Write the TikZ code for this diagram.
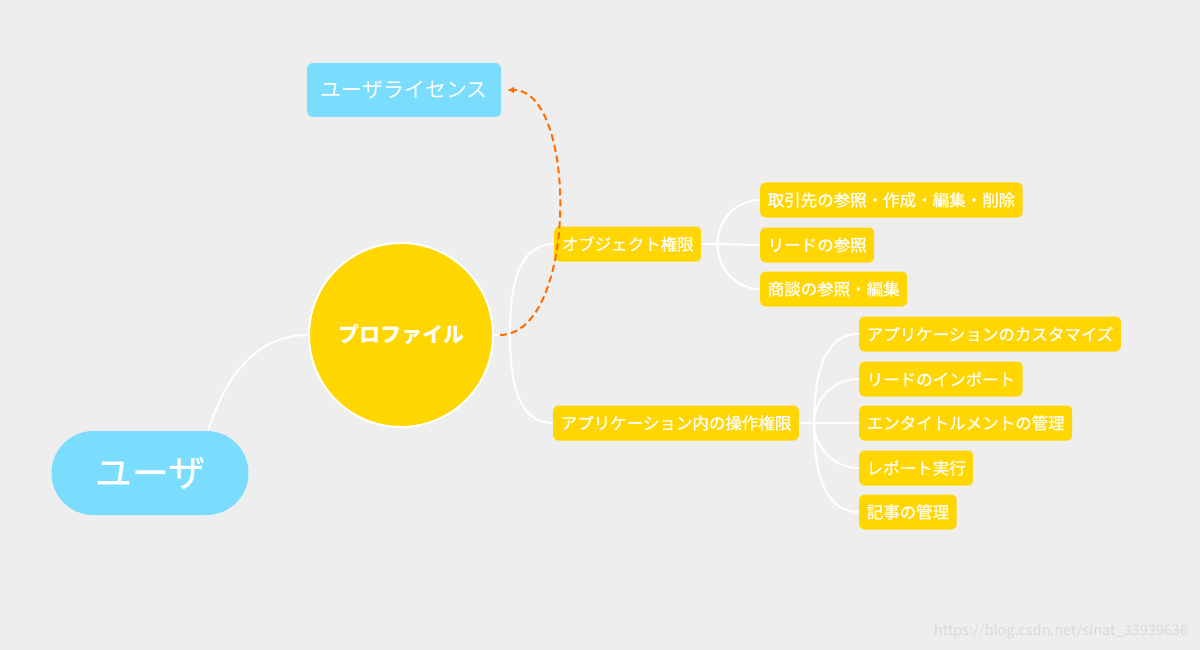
\documentclass[tikz,border=0pt]{standalone}
\usepackage{fontspec}
\setmainfont{Noto Sans CJK JP}
\newfontfamily\medfont[FakeBold=0.8]{Noto Sans CJK JP}
\usetikzlibrary{arrows.meta}

\definecolor{BgGray}{RGB}{238,238,238}
\definecolor{SkyBlue}{RGB}{122,221,254}
\definecolor{Gold}{RGB}{255,214,0}
\definecolor{LinkOrange}{RGB}{255,109,0}
\definecolor{MarkGray}{RGB}{218,218,218}

\begin{document}
\begin{tikzpicture}[
    x=1pt, y=1pt,
    every node/.style={text=white, font=\fontsize{16.5}{18}\selectfont},
    userbox/.style={fill=SkyBlue, rounded corners=42pt, minimum width=197pt, minimum height=84pt, font=\fontsize{37}{42}\selectfont\medfont},
    profile/.style={circle, fill=Gold, draw=white, line width=2pt, minimum size=184pt, font=\fontsize{21}{24}\selectfont\bfseries},
    licence/.style={fill=SkyBlue, rounded corners=6pt, minimum width=194pt, minimum height=54pt, font=\fontsize{21}{24}\selectfont},
    branch/.style={fill=Gold, rounded corners=5pt, minimum height=35pt, inner xsep=7.5pt, anchor=west, font=\fontsize{16.5}{18}\selectfont\medfont},
    leaf/.style={branch},
    link/.style={draw=white, line width=2pt},
    dashlink/.style={draw=LinkOrange, line width=2pt, dash pattern=on 7pt off 4pt, -{Latex[length=7pt, width=7pt]}}
]
\fill[BgGray] (0,0) rectangle (1200,-650);

% main nodes
\node[userbox] (user) at (150,-473) {ユーザ};
\node[profile] (profile) at (401,-335) {プロファイル};
\node[licence] (licence) at (404,-90) {ユーザライセンス};

\node[branch] (objperm) at (554,-244) {オブジェクト権限};
\node[branch] (appperm) at (553,-423) {アプリケーション内の操作権限};

% object permissions
\node[leaf] (acct) at (760,-200) {取引先の参照・作成・編集・削除};
\node[leaf] (leadref) at (760,-245) {リードの参照};
\node[leaf] (deal) at (760,-289) {商談の参照・編集};

% application permissions
\node[leaf] (custom) at (859,-334) {アプリケーションのカスタマイズ};
\node[leaf] (leadimp) at (859,-379) {リードのインポート};
\node[leaf] (entitle) at (859,-423) {エンタイトルメントの管理};
\node[leaf] (report) at (859,-468) {レポート実行};
\node[leaf] (article) at (859,-512) {記事の管理};

% connectors
\draw[link] ([xshift=58pt]user.north) to[out=72, in=180] (profile.west);
\draw[link] (profile.east) -- ++(16,0) coordinate (hubp);
\draw[link] (hubp) to[out=90, in=180] (objperm.west);
\draw[link] (hubp) to[out=-90, in=180] (appperm.west);

\draw[link] (objperm.east) -- ++(16,0) coordinate (hubo);
\draw[link] (hubo) to[out=90, in=180] (acct.west);
\draw[link] (hubo) -- (leadref.west);
\draw[link] (hubo) to[out=-90, in=180] (deal.west);

\draw[link] (appperm.east) -- ++(15,0) coordinate (huba);
\foreach \n in {custom, leadimp} {
  \draw[link] (huba) to[out=90, in=180] (\n.west);
}
\draw[link] (huba) -- (entitle.west);
\foreach \n in {report, article} {
  \draw[link] (huba) to[out=-90, in=180] (\n.west);
}

\draw[dashlink] ([xshift=6pt]profile.east) .. controls (578,-334) and (578,-90) .. ([xshift=6pt]licence.east);

\node[text=MarkGray, font=\fontsize{14.5}{16}\selectfont] (mark) at (1061,-632) {https://blog.csdn.net/sinat\_33939636};
\end{tikzpicture}
\end{document}
